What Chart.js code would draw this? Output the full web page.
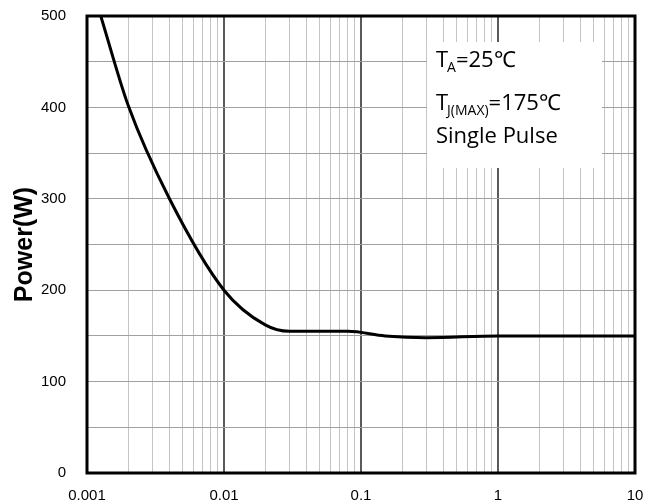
<!DOCTYPE html>
<html>
<head>
<meta charset="utf-8">
<script src="https://cdn.jsdelivr.net/npm/chart.js@4.4.1/dist/chart.umd.min.js"></script>
<style>
  html, body { margin: 0; padding: 0; background: #fff; }
  #wrap { width: 659px; height: 503px; }
</style>
</head>
<body>
<div id="wrap"><canvas id="powerChart"></canvas></div>
<script>
// Pulse width (s) vs peak power (W)
const pulseWidth = [0.00126, 0.002, 0.004, 0.01, 0.02, 0.03, 0.08, 0.15, 0.3, 1, 10];
const powerW = [500, 402, 300, 200, 162, 155, 155, 150, 148, 150, 150];

const xTicks = [];
[0.001, 0.01, 0.1, 1].forEach(d => {
    for (let k = 1; k < 10; k++) xTicks.push(+(d * k).toPrecision(3));
});
xTicks.push(10);
const xLabels = [0.001, 0.01, 0.1, 1, 10];
const yLabels = [0, 100, 200, 300, 400, 500];

// white note box with the conditions text
const noteBox = {
    id: "noteBox",
    beforeDatasetsDraw(chart) {
        const { ctx, scales: { x, y } } = chart;
        const l = x.getPixelForValue(0.303), r = x.getPixelForValue(5.74);
        const t = y.getPixelForValue(471.5), b = y.getPixelForValue(333.7);
        ctx.save();
        ctx.fillStyle = "#fff";
        ctx.fillRect(l, t, r - l, b - t);
        ctx.fillStyle = "#000";
        ctx.textBaseline = "alphabetic";
        const big = "22px 'Open Sans'", small = "14px 'Open Sans'";
        let px = l + 9;
        // line 1: T_A=25°C
        ctx.font = big; ctx.fillText("T", px, t + 25);
        px += ctx.measureText("T").width - 1;
        ctx.font = small; ctx.fillText("A", px, t + 30);
        px += ctx.measureText("A").width;
        ctx.font = big; ctx.fillText("=25℃", px, t + 25);
        // line 2: T_J(MAX)=175°C
        px = l + 9;
        ctx.fillText("T", px, t + 68);
        px += ctx.measureText("T").width - 1;
        ctx.font = small; ctx.fillText("J(MAX)", px, t + 73);
        px += ctx.measureText("J(MAX)").width;
        ctx.font = big; ctx.fillText("=175℃", px, t + 68);
        // line 3
        ctx.fillText("Single Pulse", l + 9, t + 101);
        ctx.restore();
    }
};

const frame = {
    id: "frame",
    afterDraw(chart) {
        const { ctx, chartArea: a } = chart;
        ctx.save();
        ctx.strokeStyle = "#000";
        ctx.lineWidth = 3;
        ctx.strokeRect(a.left, a.top, a.right - a.left, a.bottom - a.top);
        ctx.restore();
    }
};

const ctx = document.getElementById("powerChart").getContext("2d");
new Chart(ctx, {
    type: "line",
    data: {
        datasets: [{
            data: pulseWidth.map((v, i) => ({ x: v, y: powerW[i] })),
            borderColor: "#000",
            borderWidth: 3,
            pointRadius: 0,
            fill: false,
            cubicInterpolationMode: "monotone"
        }]
    },
    options: {
        responsive: true,
        maintainAspectRatio: false,
        animation: false,
        layout: { padding: { left: 0, right: 24, top: 16, bottom: 0 } },
        plugins: { legend: { display: false }, tooltip: { enabled: false } },
        scales: {
            x: {
                type: "logarithmic",
                min: 0.001,
                max: 10,
                afterBuildTicks: s => { s.ticks = xTicks.map(v => ({ value: v })); },
                afterFit: s => { s.height = 30; },
                border: { display: false },
                grid: {
                    drawTicks: false,
                    color: c => xLabels.includes(c.tick.value) ? "#5a5a5a" : "#c4c4c4",
                    lineWidth: c => xLabels.includes(c.tick.value) ? 2 : 1
                },
                ticks: {
                    autoSkip: false,
                    maxRotation: 0,
                    padding: 14,
                    color: "#000",
                    font: { family: "'Liberation Sans', Arial", size: 15 },
                    callback: v => xLabels.includes(v) ? String(v) : ""
                }
            },
            y: {
                min: 0,
                max: 500,
                afterFit: s => { s.width = 87; s.paddingTop = 0; s.paddingBottom = 0; },
                border: { display: false },
                grid: { drawTicks: false, color: "#a0a0a0", lineWidth: 1 },
                ticks: {
                    stepSize: 50,
                    padding: 21,
                    color: "#000",
                    font: { family: "'Liberation Sans', Arial", size: 15 },
                    callback: v => yLabels.includes(v) ? String(v) : ""
                },
                title: {
                    display: true,
                    text: "Power(W)",
                    color: "#000",
                    padding: { top: 10, bottom: 0 },
                    font: { family: "'Liberation Sans', Arial", size: 25, weight: "bold" }
                }
            }
        }
    },
    plugins: [noteBox, frame]
});
</script>
</body>
</html>
